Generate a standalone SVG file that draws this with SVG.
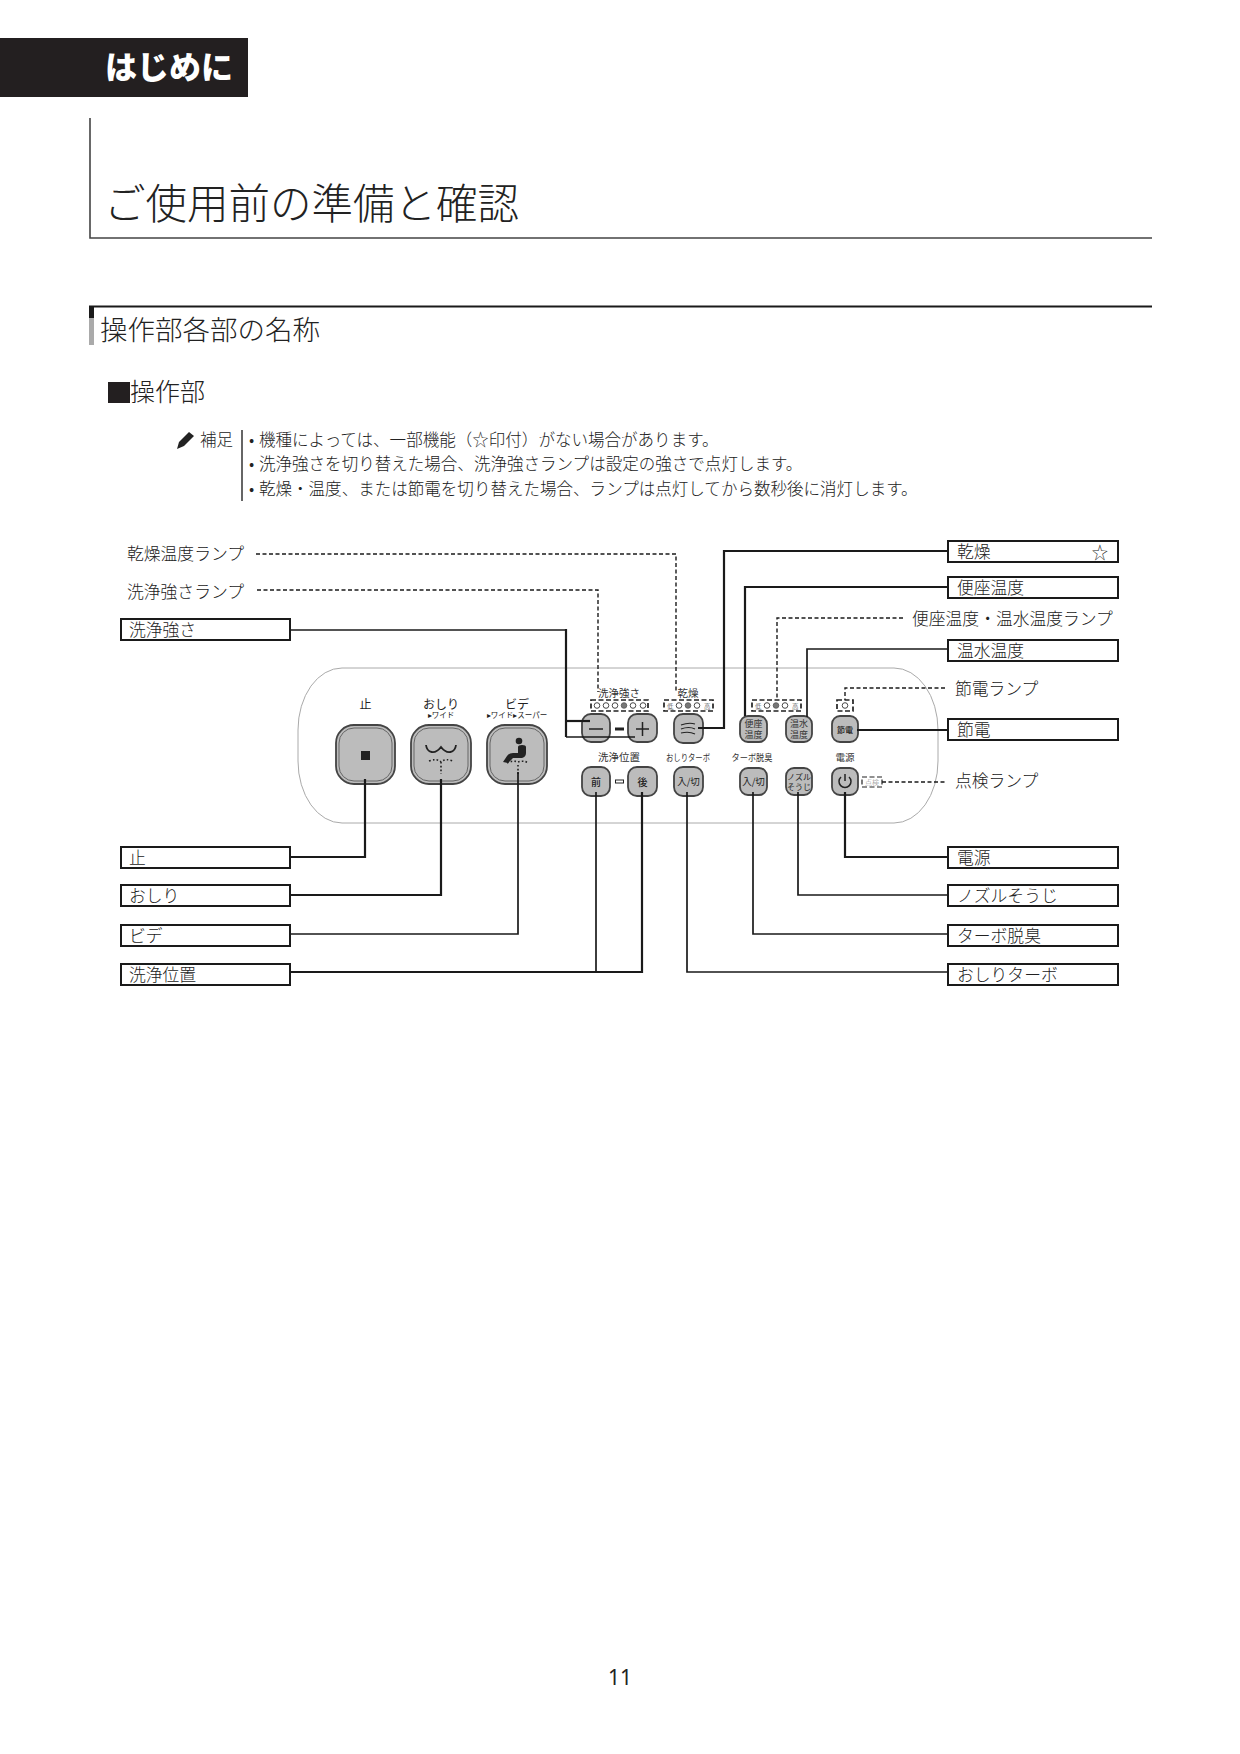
<svg xmlns="http://www.w3.org/2000/svg" width="1240" height="1754" viewBox="0 0 1240 1754">
<style>
text{font-family:"Noto Sans CJK JP","Liberation Sans",sans-serif;fill:#222;font-weight:300}
.m{text-anchor:middle}
.lb{font-size:16.800px}
.note{font-size:16.550px}
.box{fill:#fff;stroke:#1a1a1a;stroke-width:2}
.c{fill:none;stroke:#1a1a1a;stroke-width:2.200}
.t{fill:none;stroke:#1a1a1a;stroke-width:1.700}
.d{fill:none;stroke:#1a1a1a;stroke-width:1.400;stroke-dasharray:4 2.500}
.lamp{fill:#fff;stroke:#222;stroke-width:1.700;stroke-dasharray:5 2.500}
.btn{fill:#bcbcbc;stroke:#444;stroke-width:1.800}
.in{fill:none;stroke:#666;stroke-width:1}
.s{font-size:10.500px;fill:#333;font-weight:400}
.b{font-size:9px;fill:#333;font-weight:400}
.o{fill:#fff;stroke:#333;stroke-width:.9}
.f{fill:#777;stroke:#555;stroke-width:.8}
.dot{fill:none;stroke:#222;stroke-width:1.600;stroke-dasharray:1.600 2.200}
</style>

<g id="chapter-tab"><rect x="0" y="38" width="248" height="59" fill="#231f20"/>
<text x="105" y="79" font-size="32" style="fill:#fff;font-weight:900">はじめに</text></g>
<g id="title"><path d="M90 118V238H1152" fill="none" stroke="#444" stroke-width="1.600"/>
<text x="104" y="219" font-size="41.500">ご使用前の準備と確認</text></g>
<g id="section"><path d="M89 306.500H1152" stroke="#1a1a1a" stroke-width="2"/>
<rect x="89" y="306" width="5" height="12" fill="#1a1a1a"/><rect x="89" y="318" width="5" height="27" fill="#aaa"/>
<text x="100" y="340" font-size="27.500">操作部各部の名称</text></g>
<g id="subsection"><rect x="108" y="382" width="22" height="21" fill="#231f20"/>
<text x="130" y="401" font-size="25">操作部</text></g>

<g id="note">
<path d="M177 449l2-7 10-10 5 4-10 10z" fill="#222"/>
<text x="200" y="446" font-size="16.500">補足</text>
<path d="M242 430V501" stroke="#333" stroke-width="1.500"/>
<text class="note" y="446"><tspan x="249">•</tspan><tspan x="259">機種によっては、一部機能（☆印付）がない場合があります。</tspan></text>
<text class="note" y="470"><tspan x="249">•</tspan><tspan x="259">洗浄強さを切り替えた場合、洗浄強さランプは設定の強さで点灯します。</tspan></text>
<text class="note" y="495"><tspan x="249">•</tspan><tspan x="259">乾燥・温度、または節電を切り替えた場合、ランプは点灯してから数秒後に消灯します。</tspan></text>
</g>

<g id="panel"><rect x="298" y="668" width="640" height="155" rx="44" ry="62" fill="none" stroke="#aaa" stroke-width="1"/></g>

<g id="lamp-wash"><text class="s m" x="619" y="697">洗浄強さ</text>
<rect class="lamp" x="591" y="700" width="57" height="11"/>
<circle class="o" cx="597" cy="705.500" r="2.800"/><circle class="o" cx="606" cy="705.500" r="2.800"/><circle class="o" cx="615" cy="705.500" r="2.800"/><circle class="f" cx="624" cy="705.500" r="2.800"/><circle class="o" cx="633" cy="705.500" r="2.800"/><circle class="o" cx="643" cy="705.500" r="2.800"/></g>
<g id="lamp-dry"><text class="s m" x="688" y="697">乾燥</text>
<rect class="lamp" x="664" y="700" width="49" height="11"/>
<text x="667" y="709" font-size="6.500">低</text><text x="704" y="709" font-size="6.500">高</text>
<circle class="o" cx="679" cy="705.500" r="2.800"/><circle class="f" cx="688" cy="705.500" r="2.800"/><circle class="o" cx="697" cy="705.500" r="2.800"/></g>
<g id="lamp-temp"><rect class="lamp" x="752" y="700" width="49" height="11"/>
<text x="755" y="709" font-size="6.500">低</text><text x="792" y="709" font-size="6.500">高</text>
<circle class="o" cx="767" cy="705.500" r="2.800"/><circle class="f" cx="776" cy="705.500" r="2.800"/><circle class="o" cx="785" cy="705.500" r="2.800"/></g>
<g id="lamp-eco"><rect class="lamp" x="837" y="700" width="16" height="11"/><circle class="o" cx="845" cy="705.500" r="2.800"/></g>
<g id="lamp-check"><rect class="lamp" x="862" y="777" width="20" height="10" style="stroke-width:1.200"/><text class="m" x="872" y="785" font-size="7" style="fill:#888">点検</text></g>

<g id="btn-stop"><text class="m" x="365.500" y="709" font-size="12" style="font-weight:400">止</text>
<rect class="btn" x="336" y="725" width="59" height="59" rx="18"/><rect class="in" x="339" y="728" width="53" height="53" rx="15"/>
<rect x="361" y="751" width="9" height="9" fill="#222"/></g>
<g id="btn-oshiri"><text class="m" x="441" y="709" font-size="12" style="font-weight:400">おしり</text><text class="m" x="441" y="718" font-size="7.500" style="font-weight:400">▸ワイド</text>
<rect class="btn" x="411" y="725" width="60" height="59" rx="18"/><rect class="in" x="414" y="728" width="54" height="53" rx="15"/>
<path d="M426 745c1 8 9 10 15 2c6 8 14 6 15-2" fill="none" stroke="#222" stroke-width="1.800"/>
<path class="dot" d="M429 761q8-3 12 1q4-4 12-1M441 762V774"/></g>
<g id="btn-bidet"><text class="m" x="517" y="709" font-size="12" style="font-weight:400">ビデ</text><text class="m" x="517" y="718" font-size="7.500" style="font-weight:400">▸ワイド▸スーパー</text>
<rect class="btn" x="487" y="725" width="60" height="59" rx="18"/><rect class="in" x="490" y="728" width="54" height="53" rx="15"/>
<circle cx="519" cy="741" r="3.300" fill="#222"/>
<path d="M503 762l4-6q2-3 6-3h5v-6q0-2 4-2t4 2v6q0 4-4 5h-9l-5 5z" fill="#222"/>
<path class="dot" d="M507 763q6-3 11-1q5-2 11 1M518 765V774"/></g>

<g id="btn-minus"><rect class="btn" x="582" y="714" width="28" height="28" rx="9"/>
<path d="M589 729H603" stroke="#222" stroke-width="1.500"/></g>
<rect id="sep-wash" x="615" y="727.500" width="9" height="3" fill="#222"/>
<g id="btn-plus"><rect class="btn" x="628" y="714" width="29" height="28" rx="9"/>
<path d="M636 729H649M642.500 722V736" stroke="#222" stroke-width="1.500"/></g>
<g id="btn-dry"><rect class="btn" x="674" y="714" width="29" height="29" rx="9"/>
<path d="M681 725q8-3 14-1M681 729q8-3 14 0M681 733q8-2 14 1" fill="none" stroke="#222" stroke-width="1.100"/></g>
<g id="btn-seat"><rect class="btn" x="740" y="716" width="27" height="26" rx="8"/><text class="b m" x="753.500" y="726.500">便座</text><text class="b m" x="753.500" y="737.500">温度</text></g>
<g id="btn-water"><rect class="btn" x="786" y="716" width="26" height="26" rx="8"/><text class="b m" x="799" y="726.500">温水</text><text class="b m" x="799" y="737.500">温度</text></g>
<g id="btn-eco"><rect class="btn" x="832" y="716" width="26" height="26" rx="8"/><text class="m" x="845" y="733" font-size="8" style="font-weight:500">節電</text></g>

<text class="s m" x="619" y="761">洗浄位置</text>
<text class="s m" x="688" y="761" style="font-size:9.500px" textLength="44" lengthAdjust="spacingAndGlyphs">おしりターボ</text>
<text class="s m" x="752" y="761" style="font-size:9.500px" textLength="41" lengthAdjust="spacingAndGlyphs">ターボ脱臭</text>
<text class="s m" x="845" y="761" style="font-size:9.500px">電源</text>

<g id="btn-front"><rect class="btn" x="582" y="767" width="28" height="29" rx="9"/><text class="m" x="596" y="786" font-size="10" style="font-weight:500">前</text></g>
<rect id="sep-pos" x="615.500" y="780" width="8" height="3" fill="#fff" stroke="#222"/>
<g id="btn-rear"><rect class="btn" x="628" y="767" width="29" height="29" rx="9"/><text class="m" x="642.500" y="786" font-size="10" style="font-weight:500">後</text></g>
<g id="btn-turbo"><rect class="btn" x="674" y="767" width="29" height="29" rx="9"/><text class="m" x="688.500" y="785" font-size="9.500" style="font-weight:400">入/切</text></g>
<g id="btn-deodor"><rect class="btn" x="740" y="768" width="27" height="27" rx="8"/><text class="m" x="753.500" y="785" font-size="9.500" style="font-weight:400">入/切</text></g>
<g id="btn-nozzle"><rect class="btn" x="786" y="768" width="26" height="27" rx="8"/><text class="m" x="799" y="780" font-size="8" style="font-weight:400">ノズル</text><text class="m" x="799" y="790" font-size="8" style="font-weight:400">そうじ</text></g>
<g id="btn-power"><rect class="btn" x="832" y="768" width="26" height="27" rx="8"/>
<path d="M841 777a6 6 0 1 0 8 0M845 774V781" fill="none" stroke="#222" stroke-width="1.500"/></g>

<g id="connectors">
<path class="t" d="M290 630H566"/>
<path class="c" d="M566 629V737"/>
<path class="t" d="M566 737H635"/>
<path class="c" d="M566 721H590"/>
<path class="c" d="M290 857H365V779"/>
<path class="c" d="M290 895H441V779"/>
<path class="t" d="M290 934H518V772"/>
<path class="c" d="M290 972H642V792"/>
<path class="t" d="M596 972V792"/>
<path class="c" d="M948 551H724V728H698"/>
<path class="c" d="M948 587H745V716"/>
<path class="t" d="M948 649H807V717"/>
<path class="c" d="M948 730H857"/>
<path class="c" d="M948 857H845V792"/>
<path class="t" d="M948 895H798V792"/>
<path class="t" d="M948 934H753V792"/>
<path class="t" d="M948 972H687V792"/>
<path class="d" d="M256 554H676V692"/>
<path class="d" d="M257 590H598V692"/>
<path class="d" d="M903 618H777V700"/>
<path class="d" d="M945 688H845V700"/>
<path class="d" d="M882 782H947"/>
</g>

<g id="lbl-dry-lamp"><text class="lb" x="127" y="560">乾燥温度ランプ</text></g>
<g id="lbl-wash-lamp"><text class="lb" x="127" y="598">洗浄強さランプ</text></g>
<g id="lbl-wash"><rect class="box" x="121" y="619" width="169" height="21"/><text class="lb" x="129" y="636">洗浄強さ</text></g>
<g id="lbl-stop"><rect class="box" x="121" y="847" width="169" height="21"/><text class="lb" x="129" y="864">止</text></g>
<g id="lbl-oshiri"><rect class="box" x="121" y="885" width="169" height="21"/><text class="lb" x="129" y="902">おしり</text></g>
<g id="lbl-bidet"><rect class="box" x="121" y="925" width="169" height="21"/><text class="lb" x="129" y="942">ビデ</text></g>
<g id="lbl-pos"><rect class="box" x="121" y="964" width="169" height="21"/><text class="lb" x="129" y="981">洗浄位置</text></g>
<g id="lbl-dry"><rect class="box" x="948" y="541" width="170" height="21"/><text class="lb" x="957" y="558">乾燥</text><text class="lb m" x="1100" y="559">☆</text></g>
<g id="lbl-seat"><rect class="box" x="948" y="577" width="170" height="21"/><text class="lb" x="957" y="594">便座温度</text></g>
<g id="lbl-temp-lamp"><text class="lb" x="912" y="625">便座温度・温水温度ランプ</text></g>
<g id="lbl-water"><rect class="box" x="948" y="640" width="170" height="21"/><text class="lb" x="957" y="657">温水温度</text></g>
<g id="lbl-eco-lamp"><text class="lb" x="955" y="695">節電ランプ</text></g>
<g id="lbl-eco"><rect class="box" x="948" y="719" width="170" height="21"/><text class="lb" x="957" y="736">節電</text></g>
<g id="lbl-check"><text class="lb" x="955" y="787">点検ランプ</text></g>
<g id="lbl-power"><rect class="box" x="948" y="847" width="170" height="21"/><text class="lb" x="957" y="864">電源</text></g>
<g id="lbl-nozzle"><rect class="box" x="948" y="885" width="170" height="21"/><text class="lb" x="957" y="902">ノズルそうじ</text></g>
<g id="lbl-deodor"><rect class="box" x="948" y="925" width="170" height="21"/><text class="lb" x="957" y="942">ターボ脱臭</text></g>
<g id="lbl-turbo"><rect class="box" x="948" y="964" width="170" height="21"/><text class="lb" x="957" y="981">おしりターボ</text></g>

<text id="page" class="m" x="620" y="1685" font-size="21" style="font-family:'Noto Sans',sans-serif;font-weight:400">11</text>
</svg>
